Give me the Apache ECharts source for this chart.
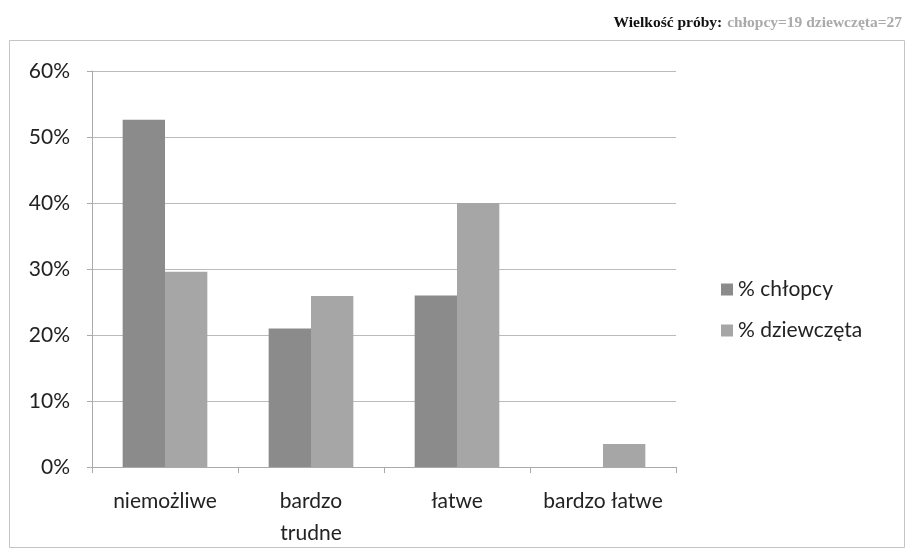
<!DOCTYPE html>
<html><head><meta charset="utf-8">
<script src="https://cdn.jsdelivr.net/npm/echarts@6/dist/echarts.min.js"></script>
<style>html,body{margin:0;padding:0;background:#fff}#c{width:910px;height:560px}</style>
</head><body><div id="c"></div>
<script>
const categories = ['niemożliwe', 'bardzo\ntrudne', 'łatwe', 'bardzo łatwe'];
const boys = [52.6, 21.0, 26.0, 0];
const girls = [29.6, 25.9, 40.0, 3.5];
const seriesNames = ['% chłopcy', '% dziewczęta'];
const yTicks = [0, 10, 20, 30, 40, 50, 60];

const chart = echarts.init(document.getElementById('c'), null, {renderer: 'canvas'});
const font = 'Lato, "Open Sans", sans-serif';
chart.setOption({
  animation: false,
  backgroundColor: '#fff',
  title: {
    text: '{b|Wielkość próby:} {g|chłopcy=19 dziewczęta=27}',
    right: 3, top: 9,
    textStyle: {
      rich: {
        b: {fontFamily: '"Liberation Serif", serif', fontWeight: 'bold', fontSize: 15.5, color: '#111'},
        g: {fontFamily: '"Liberation Serif", serif', fontSize: 15.5, color: '#aaa'}
      }
    }
  },
  graphic: [{
    type: 'rect', shape: {x: 9.5, y: 40.5, width: 895, height: 507},
    style: {fill: 'none', stroke: '#c4c4c4', lineWidth: 1}, silent: true
  }],
  legend: {
    orient: 'vertical', left: 716, top: 274, itemGap: 20,
    itemWidth: 12, itemHeight: 12, icon: 'rect',
    textStyle: {fontFamily: font, fontSize: 21, color: '#222'},
    data: seriesNames
  },
  grid: {left: 92, right: 234, top: 71, bottom: 93, containLabel: false},
  xAxis: {
    type: 'category', data: categories,
    axisLine: {show: true, lineStyle: {color: '#aaa'}},
    axisTick: {show: true, length: 6, lineStyle: {color: '#aaa'}},
    axisLabel: {interval: 0, hideOverlap: false, fontFamily: font, fontSize: 21, color: '#222', margin: 18, lineHeight: 32}
  },
  yAxis: {
    type: 'value', min: yTicks[0], max: yTicks[yTicks.length - 1], interval: 10,
    axisLine: {show: true, lineStyle: {color: '#aaa'}},
    axisTick: {show: true, length: 5, lineStyle: {color: '#aaa'}},
    splitLine: {show: true, lineStyle: {color: '#bbb', width: 1}},
    axisLabel: {formatter: '{value}%', fontFamily: font, fontSize: 21, color: '#222', margin: 22}
  },
  series: [
    {name: seriesNames[0], type: 'bar', data: boys, barGap: '0%', barCategoryGap: '42%',
     itemStyle: {color: '#8b8b8b'}},
    {name: seriesNames[1], type: 'bar', data: girls, barGap: '0%', barCategoryGap: '42%',
     itemStyle: {color: '#a6a6a6'}}
  ]
});
</script></body></html>
